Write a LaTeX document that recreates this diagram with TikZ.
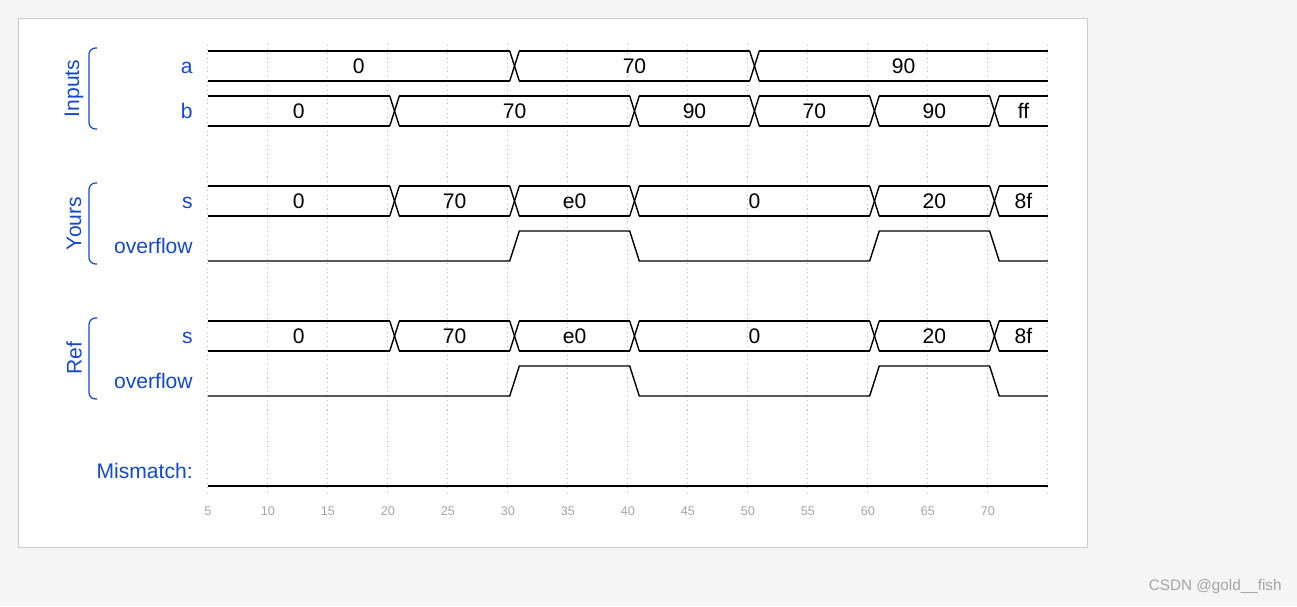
\documentclass[tikz,border=0pt]{standalone}
\usepackage{fontspec}
\setmainfont{Liberation Sans}
\usepackage{tikz}
\usetikzlibrary{positioning}

\definecolor{labelblue}{RGB}{22,72,200}
\definecolor{gridgray}{RGB}{185,185,185}
\definecolor{tickgray}{RGB}{165,165,165}
\definecolor{pagebg}{RGB}{245,245,245}
\definecolor{framegray}{RGB}{205,205,205}

\begin{document}
\begin{tikzpicture}[x=0.02cm, y=-0.02cm,
	wave/.style={line width=0.8pt, black},
	val/.style={inner sep=0pt, font=\fontsize{12}{14}\selectfont},
	sig/.style={labelblue, inner sep=0pt, anchor=base east, font=\fontsize{12}{14}\selectfont},
	grp/.style={labelblue, inner sep=0pt, rotate=90, font=\fontsize{12}{14}\selectfont},
	brace/.style={labelblue, line width=0.7pt, rounded corners=0.13cm},
	tick/.style={tickgray, inner sep=0pt, font=\fontsize{7.2}{9}\selectfont}]

	\fill[pagebg] (0,0) rectangle (1297,606);
	\useasboundingbox (0,0) rectangle (1297,606);
	\draw[framegray, fill=white] (18,18) rectangle (1087,547);

	% time axis: 1 unit = 12px, t=5 at x=208
	\begin{scope}[xshift=2.96cm, x=0.24cm]
		\foreach \t in {5,10,...,75} {
			\draw[gridgray, dotted, line width=0.6pt] (\t,44) -- (\t,494);
		};
		\foreach \t in {5,10,...,70} {
			\node[tick] (tick\t) at (\t,511) {\t};
		};

		% buses
		\foreach \nm/\y/\vals in {a/66/{5/30/0,30/50/70,50/75/90},
				b/111/{5/20/0,20/40/70,40/50/90,50/60/70,60/70/90,70/75/ff},
				ys/201/{5/20/0,20/30/70,30/40/e0,40/60/0,60/70/20,70/75/8f},
				rs/336/{5/20/0,20/30/70,30/40/e0,40/60/0,60/70/20,70/75/8f}} {
			\foreach \ta/\tb/\v [count=\i] in \vals {
				\pgfmathsetmacro\l{\ta==5 ? 5 : \ta+0.95}
				\pgfmathsetmacro\r{\tb==75 ? 75 : \tb+0.15}
				\draw[wave] (\l,\y-15) -- (\r,\y-15);
				\draw[wave] (\l,\y+15) -- (\r,\y+15);
				\ifnum\ta>5
					\draw[wave] (\ta+0.15,\y-15) -- (\ta+0.95,\y+15);
					\draw[wave] (\ta+0.15,\y+15) -- (\ta+0.95,\y-15);
				\fi
				\node[val] (\nm\i) at ({(\l+\r)/2},\y) {\v};
			};
		};

		% overflow
		\foreach \y in {261,396} {
			\draw[wave] (5,\y) -- (30.15,\y) -- (30.95,\y-30) -- (40.15,\y-30)
				-- (40.95,\y) -- (60.15,\y) -- (60.95,\y-30) -- (70.15,\y-30)
				-- (70.95,\y) -- (75,\y);
		};

		% mismatch
		\draw[wave] (5,486) -- (75,486);
	\end{scope}

	\node[sig] (lab-a) at (193,73) {a};
	\node[sig] (lab-b) at (193,118) {b};
	\node[sig] (lab-ys) at (193,208) {s};
	\node[sig] (lab-yo) at (193,253) {overflow};
	\node[sig] (lab-rs) at (193,343) {s};
	\node[sig] (lab-ro) at (193,388) {overflow};
	\node[sig] (lab-mm) at (193,478) {Mismatch:};

	\draw[brace] (97,48) -- (89,48) -- (89,129) -- (97,129);
	\draw[brace] (97,183) -- (89,183) -- (89,264) -- (97,264);
	\draw[brace] (97,318) -- (89,318) -- (89,399) -- (97,399);

	\node[grp] (grp-in) at (74,88.5) {Inputs};
	\node[grp] (grp-you) at (74,223.5) {Yours};
	\node[grp] (grp-ref) at (74,358.5) {Ref};

	\node[tickgray, inner sep=0pt, anchor=east, font=\fontsize{8.7}{10}\selectfont] (mark) at (1282,587) {CSDN @gold\_\_fish};
\end{tikzpicture}
\end{document}
